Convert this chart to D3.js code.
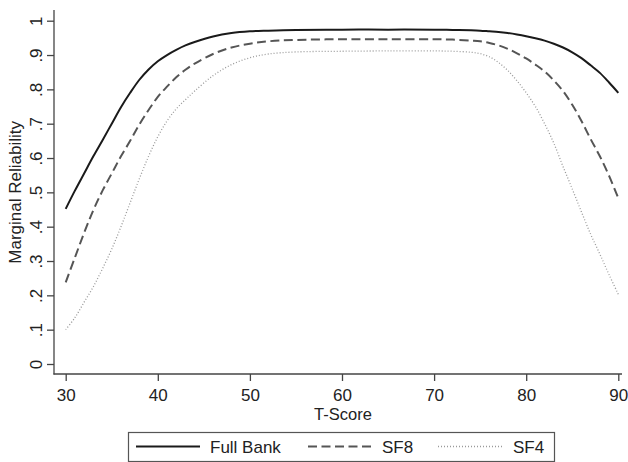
<!DOCTYPE html>
<html>
<head>
<meta charset="utf-8">
<script src="https://cdn.jsdelivr.net/npm/d3@7"></script>
<style>
  body { margin: 0; background: #fff; }
  svg { display: block; }
  text { font-family: "Liberation Sans", Arial, sans-serif; fill: #222; }
</style>
</head>
<body>
<div id="chart"></div>
<script>
// T-score grid and the three reliability curves
var tScore = [30, 31, 32, 33, 34, 35, 36, 37, 38, 39, 40, 41, 42, 43, 44, 46, 48, 50, 52, 55,
              60, 65, 70, 72, 74, 75, 76, 77, 78, 79, 80, 81, 82, 83, 84, 85, 86, 87, 88, 89, 90];
var fullBank = [0.452, 0.505, 0.555, 0.605, 0.652, 0.700, 0.748, 0.790, 0.828, 0.858, 0.882, 0.900, 0.915, 0.928, 0.938, 0.954, 0.964, 0.969, 0.971, 0.973,
                0.974, 0.974, 0.974, 0.973, 0.972, 0.971, 0.969, 0.967, 0.964, 0.960, 0.955, 0.949, 0.942, 0.933, 0.922, 0.908, 0.891, 0.870, 0.848, 0.820, 0.790];
var sf8 = [0.238, 0.310, 0.382, 0.448, 0.505, 0.555, 0.605, 0.650, 0.698, 0.740, 0.778, 0.808, 0.835, 0.857, 0.875, 0.903, 0.922, 0.933, 0.940, 0.944,
           0.946, 0.946, 0.946, 0.945, 0.942, 0.940, 0.935, 0.928, 0.918, 0.905, 0.890, 0.872, 0.852, 0.826, 0.795, 0.755, 0.708, 0.655, 0.605, 0.548, 0.483];
var sf4 = [0.100, 0.135, 0.180, 0.225, 0.278, 0.335, 0.400, 0.470, 0.540, 0.605, 0.662, 0.708, 0.743, 0.770, 0.795, 0.840, 0.872, 0.892, 0.903, 0.909,
           0.911, 0.912, 0.912, 0.911, 0.908, 0.904, 0.895, 0.878, 0.855, 0.825, 0.790, 0.750, 0.700, 0.643, 0.575, 0.510, 0.443, 0.378, 0.320, 0.260, 0.203];

var yTicks = [0, 0.1, 0.2, 0.3, 0.4, 0.5, 0.6, 0.7, 0.8, 0.9, 1];
var yTickLabels = ["0", ".1", ".2", ".3", ".4", ".5", ".6", ".7", ".8", ".9", "1"];
var xTicks = [30, 40, 50, 60, 70, 80, 90];

var seriesNames = ["Full Bank", "SF8", "SF4"];

var width = 628, height = 462;
var fontSize = 17;

var svg = d3.select("#chart").append("svg")
    .attr("width", width)
    .attr("height", height);

var x = d3.scaleLinear().domain([30, 90]).range([65.7, 618.3]);
var y = d3.scaleLinear().domain([0, 1]).range([364, 20.7]);

// styles per series
var styles = [
  {stroke: "#1a1a1a", width: 2, dash: null},
  {stroke: "#555", width: 2, dash: "9,4.5"},
  {stroke: "#9a9a9a", width: 1.3, dash: "1,2"}
];

var allSeries = [fullBank, sf8, sf4];

// axis lines
svg.append("line")
    .attr("x1", 54).attr("x2", 54)
    .attr("y1", 10).attr("y2", 374.5)
    .attr("stroke", "#444").attr("stroke-width", 1.3);
svg.append("line")
    .attr("x1", 53.5).attr("x2", 622)
    .attr("y1", 374).attr("y2", 374)
    .attr("stroke", "#444").attr("stroke-width", 1.3);

// y ticks
var yAxis = svg.append("g")
    .attr("transform", "translate(54,0)")
    .call(d3.axisLeft(y).tickValues(yTicks).tickSize(7).tickSizeOuter(0)
      .tickFormat(function(d, i) { return yTickLabels[i]; }));
yAxis.select(".domain").remove();
yAxis.selectAll(".tick line").attr("stroke", "#444").attr("stroke-width", 1.3);
yAxis.selectAll(".tick text")
    .attr("x", null).attr("dy", null)
    .attr("text-anchor", "middle")
    .attr("font-size", fontSize)
    .attr("fill", "#222")
    .attr("transform", "translate(-12,0) rotate(-90)");

// x ticks
var xAxis = svg.append("g")
    .attr("transform", "translate(0,374)")
    .call(d3.axisBottom(x).tickValues(xTicks).tickSize(7).tickSizeOuter(0));
xAxis.select(".domain").remove();
xAxis.selectAll(".tick line").attr("stroke", "#444").attr("stroke-width", 1.3);
xAxis.selectAll(".tick text")
    .attr("y", 27).attr("dy", null)
    .attr("font-size", fontSize)
    .attr("fill", "#222");

// axis titles
svg.append("text")
    .attr("transform", "translate(21," + y(0.5) + ") rotate(-90)")
    .attr("text-anchor", "middle")
    .attr("font-size", fontSize)
    .text("Marginal Reliability");

svg.append("text")
    .attr("x", x(60) + 1)
    .attr("y", 419.5)
    .attr("text-anchor", "middle")
    .attr("font-size", 16.5)
    .text("T-Score");

// curves
var line = d3.line()
    .x(function(d) { return x(d[0]); })
    .y(function(d) { return y(d[1]); })
    .curve(d3.curveCatmullRom.alpha(0.5));

allSeries.forEach(function(vals, i) {
  var pts = tScore.map(function(t, j) { return [t, vals[j]]; });
  svg.append("path")
      .datum(pts)
      .attr("fill", "none")
      .attr("stroke", styles[i].stroke)
      .attr("stroke-width", styles[i].width)
      .attr("stroke-dasharray", styles[i].dash)
      .attr("d", line);
});

// legend
var legend = svg.append("g");
legend.append("rect")
    .attr("x", 128.5).attr("y", 432.5)
    .attr("width", 426).attr("height", 29)
    .attr("fill", "#fff")
    .attr("stroke", "#555").attr("stroke-width", 1.2);

var legendLineX = [136, 308, 438];
var legendTextX = [210, 382, 513];
seriesNames.forEach(function(name, i) {
  legend.append("line")
      .attr("x1", legendLineX[i]).attr("x2", legendLineX[i] + 64)
      .attr("y1", 446.5).attr("y2", 446.5)
      .attr("stroke", styles[i].stroke)
      .attr("stroke-width", styles[i].width)
      .attr("stroke-dasharray", styles[i].dash);
  legend.append("text")
      .attr("x", legendTextX[i])
      .attr("y", 452.5)
      .attr("font-size", fontSize)
      .text(name);
});
</script>
</body>
</html>
